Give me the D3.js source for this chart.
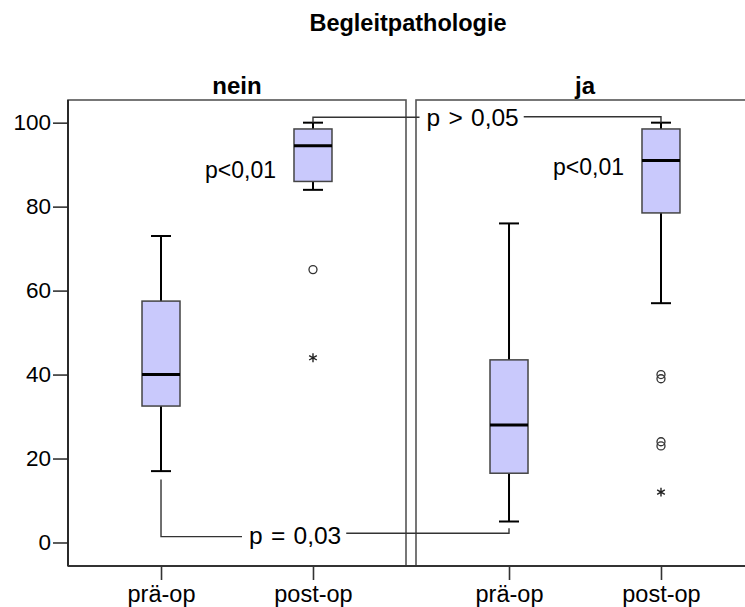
<!DOCTYPE html>
<html>
<head>
<meta charset="utf-8">
<script src="https://cdn.jsdelivr.net/npm/d3@7"></script>
<style>
  body { margin: 0; background: #fff; }
  text { font-family: "Liberation Sans", Arial, sans-serif; }
</style>
</head>
<body>
<div id="chart"></div>
<script>
// data
var panels = ["nein", "ja"];
var phases = ["prä-op", "post-op"];
var yTicks = [0, 20, 40, 60, 80, 100];

// box values per panel: [prä-op, post-op]
var whiskerLow  = [[17, 84],    [5, 57]];
var q1          = [[32.5, 86],  [16.5, 78.5]];
var median      = [[40, 94.5],  [28, 91]];
var q3          = [[57.5, 98.5],[43.5, 98.5]];
var whiskerHigh = [[73, 100],   [76, 100]];

// outliers (circles) and extremes (stars)
var outliers = [
  {panel: "nein", phase: "post-op", value: 65},
  {panel: "ja", phase: "post-op", value: 40},
  {panel: "ja", phase: "post-op", value: 39},
  {panel: "ja", phase: "post-op", value: 24},
  {panel: "ja", phase: "post-op", value: 23}
];
var extremes = [
  {panel: "nein", phase: "post-op", value: 44},
  {panel: "ja", phase: "post-op", value: 12}
];

// p-values
var withinLabels = ["p<0,01", "p<0,01"];
var withinValues = [86.8, 87.5];
var brackets = [
  {label: "p > 0,05", phase: "post-op", from: 100, to: 100, levels: [101.3, 101.4]},
  {label: "p = 0,03", phase: "prä-op", from: 15, to: 3.4, levels: [1.4, 2.2]}
];

var svgWidth = 745;
var svgHeight = 607;
var margin = {top: 100, right: -9, bottom: 41, left: 68};
var width = svgWidth - margin.left - margin.right;
var height = svgHeight - margin.top - margin.bottom;

var svg = d3.select("#chart")
  .append("svg")
  .attr("width", svgWidth)
  .attr("height", svgHeight);

var chartGroup = svg.append("g")
  .attr("transform", `translate(${margin.left}, ${margin.top})`);

// scales
var panelScale = d3.scaleBand()
  .domain(panels)
  .range([0, width])
  .paddingInner(10 / 348);

var phaseScale = d3.scalePoint()
  .domain(phases)
  .range([0, panelScale.bandwidth()])
  .padding(0.612);

var yScale = d3.scaleLinear()
  .domain([-5.6, 105.4])
  .range([height, 0]);

function xPos(panel, phase) {
  return panelScale(panel) + phaseScale(phase);
}

// title
svg.append("text")
  .attr("x", 408)
  .attr("y", 31)
  .attr("text-anchor", "middle")
  .attr("font-size", "23.5px")
  .attr("font-weight", "bold")
  .text("Begleitpathologie");

var boxWidth = 38;
var capWidth = 20;

panels.forEach(function(panel, i) {
  var g = chartGroup.append("g")
    .attr("transform", `translate(${panelScale(panel)}, 0)`);

  // panel frame
  g.append("rect")
    .attr("x", 0)
    .attr("y", 0)
    .attr("width", panelScale.bandwidth())
    .attr("height", height)
    .attr("fill", "none")
    .attr("stroke", "#555")
    .attr("stroke-width", 1.6);

  // panel header
  g.append("text")
    .attr("x", panelScale.bandwidth() / 2)
    .attr("y", -6)
    .attr("text-anchor", "middle")
    .attr("font-size", "24px")
    .attr("font-weight", "bold")
    .text(panel);

  // x axis
  var xAxis = g.append("g")
    .attr("transform", `translate(0, ${height})`)
    .call(d3.axisBottom(phaseScale).tickSize(14).tickPadding(5));
  xAxis.select(".domain").remove();
  xAxis.selectAll("line").attr("stroke", "#333").attr("stroke-width", 1.6);
  xAxis.selectAll("text")
    .attr("font-size", "23.5px")
    .attr("font-family", "'Liberation Sans', Arial, sans-serif")
    .attr("fill", "#000");

  phases.forEach(function(phase, j) {
    var cx = phaseScale(phase);
    // whisker
    g.append("line")
      .attr("x1", cx).attr("x2", cx)
      .attr("y1", yScale(whiskerLow[i][j]))
      .attr("y2", yScale(whiskerHigh[i][j]))
      .attr("stroke", "#000")
      .attr("stroke-width", 2);
    [whiskerLow[i][j], whiskerHigh[i][j]].forEach(function(v) {
      g.append("line")
        .attr("x1", cx - capWidth / 2).attr("x2", cx + capWidth / 2)
        .attr("y1", yScale(v)).attr("y2", yScale(v))
        .attr("stroke", "#000")
        .attr("stroke-width", 2);
    });
    // box
    g.append("rect")
      .attr("x", cx - boxWidth / 2)
      .attr("y", yScale(q3[i][j]))
      .attr("width", boxWidth)
      .attr("height", yScale(q1[i][j]) - yScale(q3[i][j]))
      .attr("fill", "#c9c9fc")
      .attr("stroke", "#444")
      .attr("stroke-width", 1.5);
    // median
    g.append("line")
      .attr("x1", cx - boxWidth / 2).attr("x2", cx + boxWidth / 2)
      .attr("y1", yScale(median[i][j])).attr("y2", yScale(median[i][j]))
      .attr("stroke", "#000")
      .attr("stroke-width", 3);
  });

  // within-panel p value
  g.append("text")
    .attr("x", phaseScale("post-op") - 37)
    .attr("y", yScale(withinValues[i]))
    .attr("text-anchor", "end")
    .attr("font-size", "23px")
    .text(withinLabels[i]);
});

// y axis
var yAxis = chartGroup.append("g")
  .call(d3.axisLeft(yScale).tickValues(yTicks).tickSize(15).tickPadding(2));
yAxis.select(".domain").remove();
yAxis.selectAll("line").attr("stroke", "#333").attr("stroke-width", 1.6);
yAxis.selectAll("text")
  .attr("font-size", "22.5px")
  .attr("font-family", "'Liberation Sans', Arial, sans-serif")
  .attr("fill", "#000");
chartGroup.append("line")
  .attr("x1", 0).attr("x2", 0)
  .attr("y1", 0).attr("y2", height)
  .attr("stroke", "#222")
  .attr("stroke-width", 1.8);
chartGroup.append("line")
  .attr("x1", 0).attr("x2", width)
  .attr("y1", height).attr("y2", height)
  .attr("stroke", "#333")
  .attr("stroke-width", 1.8);

// outliers
chartGroup.selectAll("circle.outlier")
  .data(outliers)
  .enter()
  .append("circle")
  .attr("class", "outlier")
  .attr("cx", d => xPos(d.panel, d.phase))
  .attr("cy", d => yScale(d.value))
  .attr("r", 4)
  .attr("fill", "none")
  .attr("stroke", "#333")
  .attr("stroke-width", 1.3);

chartGroup.selectAll("path.extreme")
  .data(extremes)
  .enter()
  .append("path")
  .attr("class", "extreme")
  .attr("transform", d => `translate(${xPos(d.panel, d.phase)}, ${yScale(d.value)})`)
  .attr("d", d3.symbol(d3.symbolAsterisk, 55))
  .attr("fill", "none")
  .attr("stroke", "#222")
  .attr("stroke-width", 1.4);

// comparison brackets between panels
brackets.forEach(function(b) {
  var x1 = xPos(panels[0], b.phase);
  var x2 = xPos(panels[1], b.phase);
  var txt = chartGroup.append("text")
    .attr("y", yScale((b.levels[0] + b.levels[1]) / 2))
    .attr("dy", "0.36em")
    .attr("font-size", "24.5px")
    .attr("word-spacing", "1.5px")
    .text(b.label);
  var tw = txt.node().getComputedTextLength();
  var tx = b.phase === "post-op" ? 358.5 : 181;
  txt.attr("x", tx);
  chartGroup.append("path")
    .attr("d", d3.line()([
      [x1, yScale(b.from)], [x1, yScale(b.levels[0])], [tx - 7, yScale(b.levels[0])]
    ]))
    .attr("fill", "none")
    .attr("stroke", "#333")
    .attr("stroke-width", 1.4);
  chartGroup.append("path")
    .attr("d", d3.line()([
      [tx + tw + 5, yScale(b.levels[1])], [x2, yScale(b.levels[1])], [x2, yScale(b.to)]
    ]))
    .attr("fill", "none")
    .attr("stroke", "#333")
    .attr("stroke-width", 1.4);
});
</script>
</body>
</html>
